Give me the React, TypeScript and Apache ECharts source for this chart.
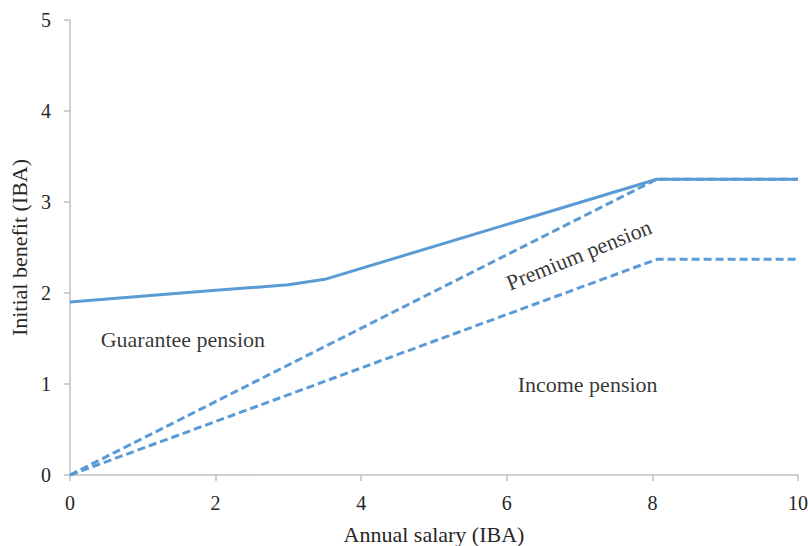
import React, { useEffect, useRef } from "react";
import * as echarts from "echarts";

const xTicks = [0, 2, 4, 6, 8, 10];
const yTicks = [0, 1, 2, 3, 4, 5];
const guarantee: [number, number][] = [
  [0, 1.9],
  [2, 2.03],
  [3, 2.09],
  [3.5, 2.15],
  [8.06, 3.25],
  [10, 3.25],
];
const premiumUpper: [number, number][] = [
  [0, 0],
  [8.06, 3.25],
  [10, 3.25],
];
const incomeLower: [number, number][] = [
  [0, 0],
  [8.06, 2.37],
  [10, 2.37],
];
const regionLabels = [
  { text: "Guarantee pension", x: 1.55, y: 1.49, rot: 0 },
  { text: "Premium pension", x: 6.99, y: 2.42, rot: 22 },
  { text: "Income pension", x: 7.11, y: 1.0, rot: 0 },
];

const FONT = "'Liberation Serif', 'DejaVu Serif', serif";
const COLOR = "#5B9BD5";
const TEXT = "#262626";

export default function App() {
  const ref = useRef<HTMLDivElement>(null);
  useEffect(() => {
    if (!ref.current) return;
    const chart = echarts.init(ref.current, null, { renderer: "svg" });
    chart.setOption({
      animation: false,
      grid: { left: 70, right: 10, top: 20, bottom: 71, containLabel: false, outerBoundsMode: "none" },
      xAxis: {
        type: "value",
        min: xTicks[0],
        max: xTicks[xTicks.length - 1],
        interval: 2,
        name: "Annual salary (IBA)",
        nameLocation: "middle",
        nameGap: 48,
        nameTextStyle: { fontFamily: FONT, fontSize: 22, color: TEXT },
        axisLine: { lineStyle: { color: "#BFBFBF", width: 1.5 } },
        axisTick: { show: true, length: 6, inside: false, lineStyle: { color: "#BFBFBF", width: 1.5 } },
        axisLabel: { fontFamily: FONT, fontSize: 20, color: TEXT, margin: 18 },
        splitLine: { show: false },
      },
      yAxis: {
        type: "value",
        min: yTicks[0],
        max: yTicks[yTicks.length - 1],
        interval: 1,
        name: "Initial benefit (IBA)",
        nameLocation: "middle",
        nameGap: 38,
        nameTextStyle: { fontFamily: FONT, fontSize: 22, color: TEXT },
        axisLine: { show: true, lineStyle: { color: "#BFBFBF", width: 1.5 } },
        axisTick: { show: true, length: 6, inside: false, lineStyle: { color: "#BFBFBF", width: 1.5 } },
        axisLabel: { fontFamily: FONT, fontSize: 20, color: TEXT, margin: 19 },
        splitLine: { show: false },
      },
      series: [
        {
          type: "line",
          data: guarantee,
          showSymbol: false,
          symbol: "none",
          lineStyle: { color: COLOR, width: 3 },
          z: 3,
        },
        {
          type: "line",
          data: premiumUpper,
          showSymbol: false,
          symbol: "none",
          lineStyle: { color: COLOR, width: 3, type: [8, 4] },
        },
        {
          type: "line",
          data: incomeLower,
          showSymbol: false,
          symbol: "none",
          lineStyle: { color: COLOR, width: 3, type: [8, 4] },
        },
        {
          type: "scatter",
          data: regionLabels.map((l) => ({
            value: [l.x, l.y],
            label: {
              show: true,
              formatter: l.text,
              position: "inside",
              align: "center",
              verticalAlign: "middle",
              rotate: l.rot,
              fontFamily: FONT,
              fontSize: 22,
              color: "#000",
            },
          })),
          symbolSize: 2,
          itemStyle: { color: "rgba(0,0,0,0)" },
          silent: true,
          z: 5,
        },
      ],
    });
    return () => chart.dispose();
  }, []);
  return <div ref={ref} style={{ width: 808, height: 546, position: "absolute", left: 0, top: 0 }} />;
}
